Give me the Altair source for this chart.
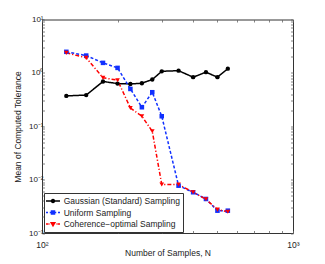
import altair as alt
import pandas as pd

# ---- data ----
N = [125, 150, 175, 200, 225, 250, 275, 300, 350, 400, 450, 500, 550]
gaussian = [0.37, 0.384, 0.69, 0.63, 0.62, 0.64, 0.75, 1.07, 1.10, 0.83, 1.03, 0.83, 1.20]
uniform = [2.48, 2.11, 1.54, 1.24, 0.50, 0.227, 0.434, 0.154, 0.0077, 0.0058, 0.00434, 0.00262, 0.00262]
coherence = [2.37, 1.91, 0.81, 0.73, 0.22, 0.154, 0.0806, 0.0081, 0.0081, 0.0058, 0.0043, 0.00274, 0.0025]
series_names = ["Gaussian (Standard) Sampling", "Uniform Sampling", "Coherence\u2212optimal Sampling"]

x_major = [100, 1000]
x_major_labels = ["10\u00b2", "10\u00b3"]
y_major = [0.001, 0.01, 0.1, 1, 10]
y_major_labels = ["10\u207b\u00b3", "10\u207b\u00b2", "10\u207b\u00b9", "10\u2070", "10\u00b9"]

# ---- styles ----
colors = ["#000000", "#1030ff", "#ff0000"]
dashes = [[1, 0], [3, 2], [4, 2, 1.2, 2]]
shapes = ["circle", "square", "triangle-down"]
sizes = [19, 22, 38]
# legend symbols (unit = 5 px): a line of 14 px with the marker in its middle
legend_paths = [
    "M-1.4,-0.14H1.4V0.14H-1.4Z M0.45,0A0.45,0.45,0,1,1,-0.45,0A0.45,0.45,0,1,1,0.45,0Z",
    "M-1.4,-0.14H-1.0V0.14H-1.4Z M-0.65,-0.14H-0.3V0.14H-0.65Z M0.3,-0.14H0.65V0.14H0.3Z "
    "M1.0,-0.14H1.4V0.14H1.0Z M-0.45,-0.45H0.45V0.45H-0.45Z",
    "M-1.4,-0.14H-0.87V0.14H-1.4Z M-0.7,-0.14H-0.59V0.14H-0.7Z M0.59,-0.14H0.7V0.14H0.59Z "
    "M0.87,-0.14H1.4V0.14H0.87Z M-0.62,-0.4H0.62L0,0.66Z",
]

rows = []
for name, vals in zip(series_names, [gaussian, uniform, coherence]):
    for n, v in zip(N, vals):
        rows.append({"N": n, "value": v, "series": name})
df = pd.DataFrame(rows)

x_ticks = [k * 100 for k in range(1, 11)]
y_ticks = [round(k * 10.0 ** e, 6) for e in range(-3, 1) for k in range(1, 10)] + [10]


def label_expr(vals, labels):
    s = "''"
    for v, l in reversed(list(zip(vals, labels))):
        s = f"datum.value == {v} ? '{l}' : " + s
    return s


FONT = "Liberation Sans"
TXT = "#222222"
tick_in = alt.ExprRef(expr="-2.5")

xs = alt.Scale(type="log", domain=[100, 1000], nice=False)
ys = alt.Scale(type="log", domain=[0.001, 10], nice=False)

x_axis_bottom = alt.Axis(
    orient="bottom", values=x_ticks, labelExpr=label_expr(x_major, x_major_labels),
    title="Number of Samples, N", domain=False, grid=False, tickSize=tick_in,
    tickColor="#666666", tickWidth=0.8, labelPadding=9.5, labelFont=FONT, labelFontSize=8.5,
    labelColor=TXT, labelOverlap=False, labelFlush=False, labelBound=False,
    titleFont=FONT, titleFontSize=8.5, titleFontWeight="normal", titleColor=TXT,
    titleX=125.5, titleY=19, titleBaseline="middle", titleAlign="center",
)
y_axis_left = alt.Axis(
    orient="left", values=y_ticks, labelExpr=label_expr(y_major, y_major_labels),
    title="Mean of Computed Tolerance", domain=False, grid=False, tickSize=tick_in,
    tickColor="#666666", tickWidth=0.8, labelPadding=1.5, labelFont=FONT, labelFontSize=8,
    labelColor=TXT, labelOverlap=False, labelFlush=False, labelBound=False,
    titleFont=FONT, titleFontSize=8.5, titleFontWeight="normal", titleColor=TXT,
    titleX=-25, titleY=107, titleBaseline="middle", titleAlign="center", titleAngle=270,
)
x_axis_top = alt.Axis(
    orient="top", values=x_ticks, labels=False, title=None, domain=False, grid=False,
    tickSize=tick_in, tickColor="#666666", tickWidth=0.8,
)
y_axis_right = alt.Axis(
    orient="right", values=y_ticks, labels=False, title=None, domain=False, grid=False,
    tickSize=tick_in, tickColor="#666666", tickWidth=0.8,
)

legend = alt.Legend(
    title=None, orient="none", legendX=2, legendY=173.5, strokeColor="#333333",
    padding=3, labelFont=FONT, labelFontSize=8.5, labelColor=TXT, labelOffset=5.7,
    symbolSize=100, symbolStrokeWidth=0, symbolOffset=1, rowPadding=1.5,
    cornerRadius=0, fillColor="#ffffff",
    symbolFillColor=alt.ExprRef(expr="scale('color', datum.value)"),
)

base = alt.Chart(df)

lines = base.mark_line(strokeWidth=1.5).encode(
    x=alt.X("N:Q", scale=xs, axis=x_axis_bottom),
    y=alt.Y("value:Q", scale=ys, axis=y_axis_left),
    stroke=alt.Stroke("series:N", scale=alt.Scale(domain=series_names, range=colors), legend=None),
    strokeDash=alt.StrokeDash("series:N", scale=alt.Scale(domain=series_names, range=dashes), legend=None),
)

points = base.mark_point(filled=True, opacity=1).encode(
    x=alt.X("N:Q", scale=xs, axis=None),
    y=alt.Y("value:Q", scale=ys, axis=None),
    fill=alt.Fill("series:N", scale=alt.Scale(domain=series_names, range=colors), legend=None),
    shape=alt.Shape("series:N", scale=alt.Scale(domain=series_names, range=shapes), legend=None),
    size=alt.Size("series:N", scale=alt.Scale(domain=series_names, range=sizes), legend=None),
)

legend_layer = base.mark_point(filled=True, opacity=0, strokeWidth=0).encode(
    x=alt.X("N:Q", scale=xs, axis=x_axis_top),
    y=alt.Y("value:Q", scale=ys, axis=y_axis_right),
    color=alt.Color("series:N", scale=alt.Scale(domain=series_names, range=colors), legend=legend),
    shape=alt.Shape("series:N", scale=alt.Scale(domain=series_names, range=legend_paths), legend=legend),
)

chart = (
    alt.layer(lines, points, legend_layer)
    .resolve_scale(shape="independent")
    .resolve_axis(x="independent", y="independent")
    .properties(
        width=251, height=213.5,
        padding={"left": 34, "top": 11.5, "right": 16, "bottom": 30},
        autosize=alt.AutoSizeParams(type="none"),
        background="#ffffff",
    )
    .configure_view(stroke="#333333", strokeWidth=1)
)

chart.save("out.html", embed_options={"renderer": "svg", "actions": False})
